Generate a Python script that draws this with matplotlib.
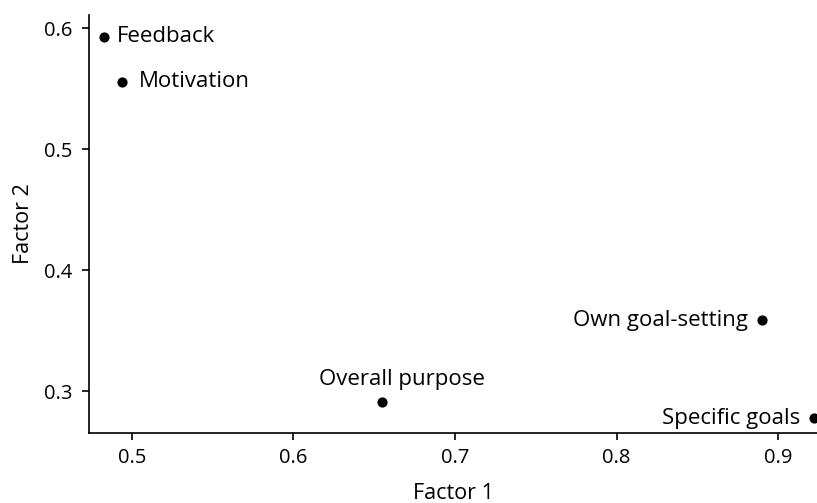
import matplotlib
matplotlib.use("Agg")
import matplotlib.pyplot as plt

plt.rcParams['font.family'] = ['Open Sans', 'DejaVu Sans']

labels = ["Feedback", "Motivation", "Overall purpose", "Own goal-setting", "Specific goals"]
factor1 = [0.483, 0.494, 0.655, 0.890, 0.922]
factor2 = [0.593, 0.556, 0.291, 0.359, 0.278]
# label offsets in points relative to each point, and alignment
offsets = [(9, 0), (12, 0), (14, 9), (-10, 0), (-10, 0)]
aligns = [("left", "center"), ("left", "center"), ("center", "bottom"),
          ("right", "center"), ("right", "center")]

xticks = [0.5, 0.6, 0.7, 0.8, 0.9]
yticks = [0.3, 0.4, 0.5, 0.6]

fig = plt.figure(figsize=(8.17, 5.03), dpi=100)
ax = fig.add_axes([0.109, 0.140, 0.891, 0.830])

ax.scatter(factor1, factor2, s=40, color="black", zorder=3, clip_on=False)

for x, y, lab, off, (ha, va) in zip(factor1, factor2, labels, offsets, aligns):
    ax.annotate(lab, (x, y), xytext=off, textcoords="offset points",
                ha=ha, va=va, fontsize=16)

ax.set_xlim(0.4736, 0.924)
ax.set_ylim(0.266, 0.611)
ax.set_xticks(xticks)
ax.set_yticks(yticks)
ax.set_xticklabels([f"{t:.1f}" for t in xticks])
ax.set_yticklabels([f"{t:.1f}" for t in yticks])
ax.tick_params(axis="both", labelsize=14.5, length=5, width=1.2, direction="out")
ax.tick_params(axis="x", pad=6)
ax.tick_params(axis="y", pad=7)

for s in ["top", "right"]:
    ax.spines[s].set_visible(False)
for s in ["left", "bottom"]:
    ax.spines[s].set_linewidth(1.2)

ax.set_xlabel("Factor 1", fontsize=15.5, labelpad=11)
ax.set_ylabel("Factor 2", fontsize=15.5, labelpad=7)

fig.savefig("out.png", dpi=100)
